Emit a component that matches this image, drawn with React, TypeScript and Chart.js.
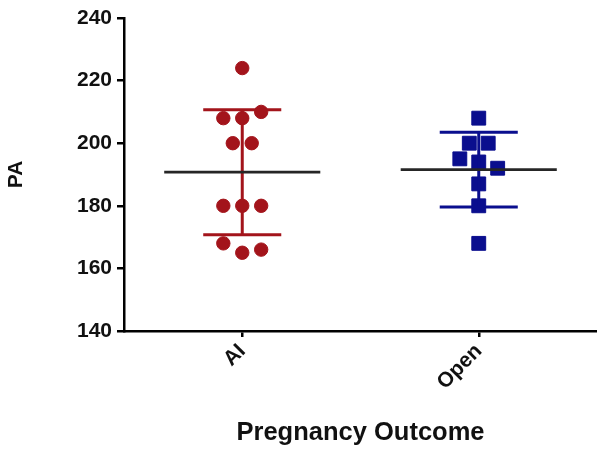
import React, { useEffect, useRef } from "react";
import { Chart, registerables } from "chart.js";

Chart.register(...registerables);

// ---- data ----
const categories = ["AI", "Open"];
const aiValues = [224, 208, 208, 210, 200, 200, 180, 180, 180, 168, 165, 166];
const openValues = [208, 200, 200, 195, 194, 192, 187, 180, 168];
const yTicks = [140, 160, 180, 200, 220, 240];

const groups = [aiValues, openValues];
const colors = ["#A3141B", "#0A0E8E"];
const pointStyles = ["circle", "rect"];
const pointRadii = [6.7, 9.8];

const FONT = "'Liberation Sans', Arial, Helvetica, sans-serif";

function mean(v: number[]) {
  return v.reduce((a, b) => a + b, 0) / v.length;
}
function sd(v: number[]) {
  const m = mean(v);
  return Math.sqrt(v.reduce((a, b) => a + (b - m) * (b - m), 0) / (v.length - 1));
}

// simple row-based beeswarm: group values into rows of marker height, spread each row
function swarm(values: number[], center: number, binSize: number, step: number) {
  const order = values.map((_, i) => i).sort((a, b) => values[b] - values[a]);
  const bins: number[][] = [];
  let top = Infinity;
  for (const i of order) {
    if (bins.length === 0 || values[i] < top - binSize) {
      bins.push([i]);
      top = values[i];
    } else bins[bins.length - 1].push(i);
  }
  const offs = new Array(values.length).fill(0);
  for (const b of bins) {
    b.sort((a, c) => a - c);
    b.forEach((idx, k) => {
      offs[idx] = (k - (b.length - 1) / 2) * step;
    });
  }
  return values.map((v, i) => ({ x: center + offs[i], y: v }));
}

export default function App() {
  const ref = useRef<HTMLCanvasElement>(null);

  useEffect(() => {
    if (!ref.current) return;
    const MEAN_HALF = 0.33;
    const CAP_HALF = 0.165;
    const datasets: any[] = [];

    groups.forEach((vals, i) => {
      const m = mean(vals);
      const s = sd(vals);
      // mean line
      datasets.push({
        type: "line",
        data: [
          { x: i - MEAN_HALF, y: m },
          { x: i + MEAN_HALF, y: m },
        ],
        borderColor: "#262626",
        borderWidth: 2.6,
        pointRadius: 0,
        order: 0,
      });
      // SD error bar
      datasets.push({
        type: "line",
        data: [
          { x: i - CAP_HALF, y: m + s },
          { x: i + CAP_HALF, y: m + s },
          { x: i, y: null },
          { x: i, y: m + s },
          { x: i, y: m - s },
          { x: i, y: null },
          { x: i - CAP_HALF, y: m - s },
          { x: i + CAP_HALF, y: m - s },
        ],
        borderColor: colors[i],
        borderWidth: 3,
        pointRadius: 0,
        spanGaps: false,
        order: 1,
      });
      // points
      datasets.push({
        type: "scatter",
        data: swarm(vals, i, 4.6, 0.08),
        backgroundColor: colors[i],
        borderColor: colors[i],
        borderWidth: 1,
        pointStyle: pointStyles[i],
        pointRadius: pointRadii[i],
        order: 2,
      });
    });

    const chart = new Chart(ref.current, {
      type: "scatter",
      data: { datasets },
      options: {
        animation: false,
        responsive: false,
        layout: { autoPadding: false, padding: { top: 18, right: 0, left: 0, bottom: 0 } },
        plugins: { legend: { display: false }, tooltip: { enabled: false } },
        scales: {
          x: {
            type: "linear",
            min: -0.5,
            max: 1.5,
            afterBuildTicks: (axis: any) => {
              axis.ticks = categories.map((_, i) => ({ value: i }));
            },
            afterFit: (axis: any) => {
              axis.height = 121;
              axis.paddingRight = 0;
            },
            ticks: {
              autoSkip: false,
              minRotation: 45,
              maxRotation: 45,
              padding: 2,
              color: "#111",
              font: { family: FONT, size: 21, weight: "bold" },
              callback: (v: any) => categories[v as number] ?? "",
            },
            grid: {
              display: true,
              drawOnChartArea: false,
              drawTicks: true,
              tickLength: 6,
              color: "#000",
              lineWidth: 2.5,
            },
            border: { display: true, color: "#000", width: 2.5 },
            title: {
              display: true,
              text: "Pregnancy Outcome",
              color: "#111",
              font: { family: FONT, size: 25.5, weight: "bold" },
              padding: { top: 0, bottom: 4 },
              align: "center",
            },
          },
          y: {
            type: "linear",
            min: 140,
            max: 240,
            afterBuildTicks: (axis: any) => {
              axis.ticks = yTicks.map((v) => ({ value: v }));
            },
            afterFit: (axis: any) => {
              axis.width = 124;
            },
            ticks: {
              padding: 5,
              color: "#111",
              font: { family: FONT, size: 21, weight: "bold" },
            },
            grid: {
              display: true,
              drawOnChartArea: false,
              drawTicks: true,
              tickLength: 7,
              color: "#000",
              lineWidth: 2.5,
            },
            border: { display: true, color: "#000", width: 2.5 },
            title: {
              display: true,
              text: "PA",
              color: "#111",
              font: { family: FONT, size: 21, weight: "bold" },
              padding: { top: 4, bottom: 0 },
            },
          },
        },
      },
    });
    return () => chart.destroy();
  }, []);

  return (
    <div style={{ position: "absolute", left: 0, top: 0, width: 597, height: 452, background: "#fff" }}>
      <canvas ref={ref} width={597} height={452} />
    </div>
  );
}
